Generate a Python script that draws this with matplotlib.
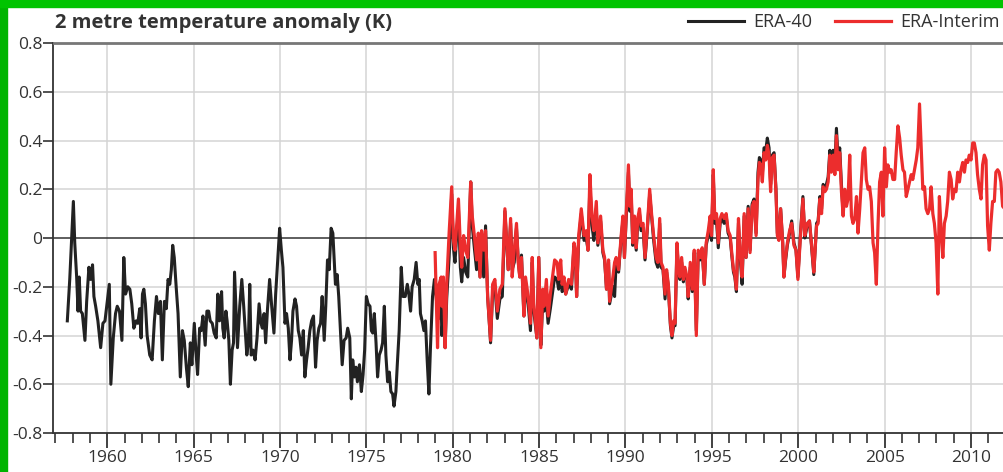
import numpy as np
import matplotlib
matplotlib.use("Agg")
import matplotlib.pyplot as plt
from matplotlib.patches import Rectangle

plt.rcParams['font.family'] = ['Open Sans', 'DejaVu Sans']

# ERA-40, 1957-1978 (year, anomaly K)
era40_years_early = [
    1957.69, 1957.83, 1958.04, 1958.12, 1958.23, 1958.31, 1958.38, 1958.46, 1958.56, 1958.71,
    1958.81, 1958.94, 1959.04, 1959.15, 1959.23, 1959.33, 1959.46, 1959.62, 1959.75, 1959.87,
    1960.00, 1960.12, 1960.21, 1960.35, 1960.48, 1960.58, 1960.71, 1960.85, 1960.96, 1961.06,
    1961.19, 1961.31, 1961.42, 1961.54, 1961.67, 1961.77, 1961.88, 1961.96, 1962.04, 1962.12,
    1962.21, 1962.31, 1962.46, 1962.60, 1962.73, 1962.85, 1962.96, 1963.08, 1963.19, 1963.31,
    1963.42, 1963.52, 1963.62, 1963.71, 1963.79, 1963.88, 1964.00, 1964.10, 1964.23, 1964.35,
    1964.46, 1964.58, 1964.69, 1964.81, 1964.90, 1965.04, 1965.13, 1965.23, 1965.35, 1965.44,
    1965.54, 1965.67, 1965.77, 1965.87, 1965.96, 1966.08, 1966.19, 1966.31, 1966.40, 1966.50,
    1966.62, 1966.69, 1966.77, 1966.87, 1966.94, 1967.04, 1967.13, 1967.23, 1967.31, 1967.37,
    1967.54, 1967.67, 1967.79, 1967.90, 1967.98, 1968.08, 1968.17, 1968.25, 1968.33, 1968.44,
    1968.56, 1968.67, 1968.79, 1968.90, 1968.98, 1969.08, 1969.17, 1969.27, 1969.40, 1969.52,
    1969.65, 1969.75, 1969.87, 1969.98, 1970.08, 1970.17, 1970.29, 1970.38, 1970.48, 1970.58,
    1970.67, 1970.75, 1970.87, 1970.96, 1971.06, 1971.15, 1971.25, 1971.35, 1971.44, 1971.54,
    1971.63, 1971.73, 1971.83, 1971.94, 1972.06, 1972.15, 1972.25, 1972.35, 1972.44, 1972.56,
    1972.65, 1972.75, 1972.85, 1972.96, 1973.06, 1973.13, 1973.21, 1973.31, 1973.40, 1973.50,
    1973.60, 1973.71, 1973.83, 1973.92, 1974.04, 1974.13, 1974.21, 1974.31, 1974.40, 1974.48,
    1974.60, 1974.71, 1974.81, 1974.90, 1975.00, 1975.10, 1975.21, 1975.29, 1975.37, 1975.46,
    1975.56, 1975.65, 1975.75, 1975.85, 1975.94, 1976.04, 1976.13, 1976.23, 1976.33, 1976.42,
    1976.52, 1976.60, 1976.71, 1976.79, 1976.90, 1977.02, 1977.12, 1977.25, 1977.37, 1977.46,
    1977.56, 1977.65, 1977.77, 1977.88, 1977.98, 1978.06, 1978.13, 1978.23, 1978.33, 1978.42,
    1978.52, 1978.62, 1978.71, 1978.83, 1978.94,
]
era40_vals_early = [
    -0.34, -0.17, 0.15, -0.02, -0.16, -0.30, -0.16, -0.30, -0.31, -0.42,
    -0.26, -0.12, -0.17, -0.11, -0.24, -0.28, -0.34, -0.45, -0.35, -0.34,
    -0.26, -0.19, -0.60, -0.41, -0.31, -0.28, -0.30, -0.42, -0.08, -0.23,
    -0.20, -0.21, -0.27, -0.37, -0.34, -0.35, -0.29, -0.41, -0.23, -0.21,
    -0.27, -0.40, -0.48, -0.50, -0.34, -0.24, -0.31, -0.26, -0.50, -0.26,
    -0.29, -0.17, -0.19, -0.13, -0.03, -0.08, -0.21, -0.31, -0.57, -0.38,
    -0.42, -0.53, -0.61, -0.43, -0.52, -0.35, -0.46, -0.56, -0.37, -0.38,
    -0.32, -0.44, -0.30, -0.30, -0.34, -0.35, -0.39, -0.41, -0.23, -0.34,
    -0.22, -0.37, -0.41, -0.30, -0.34, -0.42, -0.60, -0.46, -0.43, -0.14,
    -0.45, -0.28, -0.17, -0.28, -0.37, -0.48, -0.43, -0.19, -0.48, -0.46,
    -0.50, -0.41, -0.27, -0.35, -0.37, -0.31, -0.43, -0.30, -0.17, -0.28,
    -0.39, -0.23, -0.09, 0.04, -0.05, -0.12, -0.35, -0.31, -0.37, -0.50,
    -0.42, -0.30, -0.25, -0.28, -0.38, -0.41, -0.48, -0.38, -0.57, -0.50,
    -0.45, -0.38, -0.34, -0.32, -0.53, -0.42, -0.37, -0.35, -0.24, -0.42,
    -0.28, -0.09, -0.13, 0.04, 0.02, -0.08, -0.19, -0.15, -0.24, -0.38,
    -0.52, -0.42, -0.41, -0.37, -0.41, -0.66, -0.50, -0.57, -0.53, -0.59,
    -0.52, -0.63, -0.56, -0.46, -0.24, -0.27, -0.28, -0.38, -0.39, -0.31,
    -0.43, -0.57, -0.48, -0.46, -0.43, -0.28, -0.48, -0.59, -0.55, -0.63,
    -0.64, -0.69, -0.63, -0.52, -0.38, -0.12, -0.24, -0.24, -0.19, -0.23,
    -0.30, -0.20, -0.17, -0.10, -0.19, -0.17, -0.31, -0.34, -0.38, -0.34,
    -0.50, -0.64, -0.45, -0.24, -0.17,
]

# ERA-Interim, 1979-2011
interim_years = [
    1978.98, 1979.12, 1979.21, 1979.33, 1979.37, 1979.46, 1979.56, 1979.65, 1979.79, 1979.94,
    1980.04, 1980.13, 1980.33, 1980.44, 1980.52, 1980.63, 1980.75, 1980.87, 1981.04, 1981.13,
    1981.25, 1981.38, 1981.48, 1981.58, 1981.67, 1981.79, 1981.90, 1982.02, 1982.19, 1982.31,
    1982.44, 1982.58, 1982.73, 1982.87, 1983.02, 1983.13, 1983.21, 1983.35, 1983.44, 1983.56,
    1983.69, 1983.79, 1983.88, 1983.98, 1984.12, 1984.21, 1984.31, 1984.40, 1984.50, 1984.60,
    1984.69, 1984.87, 1984.98, 1985.10, 1985.21, 1985.29, 1985.42, 1985.52, 1985.65, 1985.90,
    1986.04, 1986.13, 1986.25, 1986.33, 1986.44, 1986.54, 1986.71, 1986.87, 1987.02, 1987.10,
    1987.17, 1987.29, 1987.44, 1987.60, 1987.73, 1987.83, 1987.94, 1988.06, 1988.17, 1988.31,
    1988.40, 1988.56, 1988.69, 1988.79, 1988.90, 1989.02, 1989.08, 1989.27, 1989.37, 1989.46,
    1989.60, 1989.75, 1989.85, 1989.94, 1990.04, 1990.17, 1990.25, 1990.33, 1990.42, 1990.52,
    1990.62, 1990.71, 1990.81, 1990.90, 1991.02, 1991.13, 1991.25, 1991.40, 1991.52, 1991.63,
    1991.77, 1991.87, 1991.98, 1992.06, 1992.17, 1992.29, 1992.38, 1992.48, 1992.60, 1992.69,
    1992.79, 1992.87, 1992.98, 1993.08, 1993.15, 1993.25, 1993.35, 1993.44, 1993.56, 1993.63,
    1993.75, 1993.87, 1993.98, 1994.10, 1994.21, 1994.33, 1994.44, 1994.56, 1994.67, 1994.79,
    1994.90, 1994.98, 1995.08, 1995.17, 1995.27, 1995.37, 1995.48, 1995.58, 1995.71, 1995.83,
    1995.94, 1996.06, 1996.15, 1996.25, 1996.33, 1996.42, 1996.54, 1996.63, 1996.75, 1996.87,
    1996.98, 1997.10, 1997.21, 1997.33, 1997.44, 1997.56, 1997.67, 1997.75, 1997.83, 1997.92,
    1998.02, 1998.12, 1998.21, 1998.31, 1998.40, 1998.50, 1998.60, 1998.71, 1998.79, 1998.88,
    1998.98, 1999.10, 1999.17, 1999.27, 1999.37, 1999.50, 1999.62, 1999.75, 1999.87, 1999.98,
    2000.13, 2000.27, 2000.38, 2000.52, 2000.65, 2000.81, 2000.90, 2001.06, 2001.15, 2001.25,
    2001.35, 2001.44, 2001.54, 2001.63, 2001.73, 2001.83, 2001.92, 2002.02, 2002.12, 2002.21,
    2002.31, 2002.40, 2002.50, 2002.60, 2002.69, 2002.79, 2002.88, 2002.98, 2003.08, 2003.17,
    2003.27, 2003.37, 2003.46, 2003.56, 2003.65, 2003.75, 2003.85, 2003.94, 2004.04, 2004.13,
    2004.23, 2004.33, 2004.42, 2004.52, 2004.62, 2004.71, 2004.81, 2004.90, 2005.00, 2005.10,
    2005.19, 2005.29, 2005.38, 2005.48, 2005.58, 2005.67, 2005.77, 2005.87, 2005.96, 2006.06,
    2006.15, 2006.25, 2006.35, 2006.44, 2006.54, 2006.63, 2006.73, 2006.83, 2006.92, 2007.02,
    2007.12, 2007.21, 2007.31, 2007.40, 2007.50, 2007.60, 2007.69, 2007.79, 2007.88, 2007.98,
    2008.08, 2008.17, 2008.27, 2008.37, 2008.46, 2008.56, 2008.65, 2008.75, 2008.85, 2008.94,
    2009.04, 2009.13, 2009.23, 2009.33, 2009.42, 2009.52, 2009.62, 2009.71, 2009.81, 2009.90,
    2010.00, 2010.10, 2010.19, 2010.29, 2010.38, 2010.48, 2010.58, 2010.67, 2010.77, 2010.87,
    2010.96, 2011.06, 2011.15, 2011.25, 2011.35, 2011.44, 2011.54, 2011.63, 2011.73, 2011.83,
    2011.95,
]
interim_vals = [
    -0.06, -0.45, -0.19, -0.16, -0.28, -0.16, -0.45, -0.19, 0.02, 0.21,
    -0.01, -0.05, 0.16, -0.03, -0.12, 0.01, -0.05, -0.08, 0.23, 0.09,
    0.01, -0.09, 0.02, -0.16, 0.03, -0.05, 0.03, -0.24, -0.42, -0.19,
    -0.17, -0.30, -0.21, -0.19, 0.12, -0.02, -0.13, 0.08, -0.16, -0.05,
    0.06, -0.10, -0.16, -0.08, -0.32, -0.16, -0.21, -0.27, -0.35, -0.08,
    -0.27, -0.41, -0.08, -0.45, -0.21, -0.28, -0.17, -0.32, -0.23, -0.09,
    -0.10, -0.17, -0.09, -0.19, -0.16, -0.23, -0.17, -0.19, -0.02, -0.05,
    -0.24, 0.01, 0.12, 0.01, 0.03, -0.05, 0.26, 0.09, 0.03, 0.15,
    -0.02, 0.09, -0.05, -0.08, -0.21, -0.09, -0.26, -0.16, -0.10, -0.08,
    -0.13, 0.01, 0.09, -0.08, 0.10, 0.30, 0.13, 0.20, -0.02, 0.09,
    -0.04, 0.08, 0.12, 0.05, 0.06, -0.08, 0.03, 0.20, 0.09, 0.01,
    -0.08, -0.10, 0.08, -0.10, -0.12, -0.23, -0.13, -0.19, -0.35, -0.40,
    -0.34, -0.35, -0.02, -0.13, -0.16, -0.08, -0.17, -0.12, -0.16, -0.24,
    -0.10, -0.21, -0.05, -0.40, -0.05, -0.08, -0.04, -0.19, -0.02, 0.03,
    0.09, 0.01, 0.28, 0.08, 0.10, -0.02, 0.08, 0.10, 0.08, 0.10,
    0.03, 0.01, -0.06, -0.13, -0.15, -0.21, 0.08, -0.06, -0.16, 0.10,
    -0.08, 0.12, -0.06, 0.13, 0.15, 0.01, 0.24, 0.31, 0.30, 0.23,
    0.35, 0.32, 0.38, 0.34, 0.19, 0.33, 0.34, 0.19, 0.01, -0.01,
    0.12, -0.02, -0.16, -0.08, -0.02, 0.03, 0.06, -0.03, -0.05, -0.17,
    0.01, 0.16, 0.01, 0.06, 0.07, -0.06, -0.14, 0.05, 0.06, 0.16,
    0.10, 0.21, 0.19, 0.20, 0.23, 0.34, 0.27, 0.34, 0.26, 0.42,
    0.28, 0.35, 0.19, 0.09, 0.20, 0.13, 0.16, 0.34, 0.09, 0.06,
    0.08, 0.17, 0.02, 0.12, 0.23, 0.35, 0.37, 0.24, 0.20, 0.21,
    0.15, -0.02, -0.06, -0.19, 0.06, 0.23, 0.27, 0.09, 0.37, 0.21,
    0.30, 0.27, 0.28, 0.24, 0.24, 0.35, 0.46, 0.41, 0.34, 0.28,
    0.27, 0.17, 0.20, 0.23, 0.26, 0.24, 0.28, 0.32, 0.37, 0.55,
    0.37, 0.20, 0.21, 0.12, 0.10, 0.12, 0.21, 0.10, 0.06, -0.02,
    -0.23, 0.17, 0.03, -0.08, 0.06, 0.09, 0.15, 0.27, 0.24, 0.16,
    0.20, 0.19, 0.27, 0.23, 0.28, 0.31, 0.27, 0.32, 0.31, 0.34,
    0.32, 0.39, 0.39, 0.35, 0.26, 0.20, 0.16, 0.30, 0.34, 0.32,
    0.05, -0.05, 0.06, 0.15, 0.15, 0.27, 0.28, 0.27, 0.23, 0.13,
    0.12,
]

# ERA-40 from 1979 to Aug 2002, on the same dates as ERA-Interim (from its 2nd point)
era40_vals_late = [
    -0.30, -0.33, -0.26, -0.40, -0.30, -0.45, -0.25, -0.08, 0.18,
    -0.04, -0.10, 0.12, -0.12, -0.18, -0.08, -0.14, -0.16, 0.23, 0.05,
    -0.04, -0.13, -0.04, -0.16, -0.02, -0.16, 0.05, -0.24, -0.43, -0.22,
    -0.20, -0.33, -0.25, -0.24, 0.11, -0.03, -0.13, 0.06, -0.13, -0.10,
    0.04, -0.09, -0.16, -0.07, -0.32, -0.19, -0.24, -0.30, -0.38, -0.10,
    -0.30, -0.41, -0.08, -0.44, -0.26, -0.30, -0.26, -0.35, -0.29, -0.16,
    -0.17, -0.21, -0.14, -0.22, -0.20, -0.23, -0.19, -0.21, -0.03, -0.07,
    -0.24, -0.01, 0.10, -0.01, 0.00, -0.05, 0.22, 0.05, -0.01, 0.12,
    -0.03, 0.07, -0.06, -0.09, -0.21, -0.10, -0.27, -0.20, -0.24, -0.10,
    -0.14, 0.00, 0.07, -0.08, 0.08, 0.27, 0.11, 0.18, -0.03, 0.07,
    -0.05, 0.06, 0.10, 0.03, 0.04, -0.09, 0.02, 0.18, 0.08, -0.01,
    -0.10, -0.12, 0.06, -0.12, -0.13, -0.25, -0.14, -0.20, -0.36, -0.41,
    -0.36, -0.36, -0.03, -0.15, -0.17, -0.10, -0.18, -0.14, -0.17, -0.25,
    -0.12, -0.22, -0.06, -0.38, -0.06, -0.09, -0.05, -0.19, -0.03, 0.01,
    0.05, -0.01, 0.26, 0.06, 0.07, -0.04, 0.06, 0.08, 0.06, 0.09,
    0.02, 0.00, -0.07, -0.14, -0.16, -0.22, 0.06, -0.07, -0.19, 0.09,
    -0.08, 0.13, -0.05, 0.14, 0.16, 0.02, 0.27, 0.33, 0.32, 0.26,
    0.37, 0.36, 0.41, 0.37, 0.22, 0.34, 0.35, 0.20, 0.02, 0.00,
    0.12, -0.02, -0.16, -0.09, -0.03, 0.02, 0.07, -0.02, -0.05, -0.16,
    0.02, 0.17, 0.00, 0.05, 0.07, -0.07, -0.15, 0.06, 0.07, 0.17,
    0.12, 0.22, 0.20, 0.22, 0.25, 0.36, 0.28, 0.36, 0.30, 0.45,
    0.32, 0.37, 0.22, 0.10,
]

era40_years = era40_years_early + interim_years[1:1 + len(era40_vals_late)]
era40_vals = era40_vals_early + era40_vals_late

fig = plt.figure(figsize=(10.04, 4.72), dpi=100)
ax = fig.add_axes([53.5 / 1004, 1 - 433 / 472, 1 - 53.5 / 1004, 390 / 472])

# gridlines
for yr in range(1960, 2015, 5):
    ax.axvline(yr, color='#d4d4d4', lw=1.1, zorder=0)
for v in [-0.6, -0.4, -0.2, 0.2, 0.4, 0.6]:
    ax.axhline(v, color='#d4d4d4', lw=1.1, zorder=0)
ax.axhline(0, color='#333333', lw=1.1, zorder=1)

ax.plot(era40_years, era40_vals, color='#222222', lw=2.2, label='ERA-40', zorder=2)
ax.plot(interim_years, interim_vals, color='#ec2d2d', lw=2.3, label='ERA-Interim', zorder=3)

ax.set_xlim(1956.89, 2011.91)
ax.set_ylim(-0.8, 0.8)
ax.set_yticks(np.arange(-0.8, 0.81, 0.2))
ax.set_yticklabels(['-0.8', '-0.6', '-0.4', '-0.2', '0', '0.2', '0.4', '0.6', '0.8'])
ax.set_xticks(range(1960, 2015, 5))
ax.set_xticks(range(1957, 2012), minor=True)

ax.spines['right'].set_visible(False)
ax.spines['top'].set_color('#777777')
ax.spines['top'].set_linewidth(2)
ax.spines['left'].set_color('#333333')
ax.spines['left'].set_linewidth(1.3)
ax.spines['bottom'].set_color('#333333')
ax.spines['bottom'].set_linewidth(1.3)

ax.tick_params(axis='y', direction='out', length=7, width=1.2, color='#333333',
               labelsize=12.5, labelcolor='#333333', pad=1)
ax.tick_params(axis='x', which='major', direction='out', length=10.5, width=1.3,
               color='#333333', labelsize=12.5, labelcolor='#333333', pad=2)
ax.tick_params(axis='x', which='minor', direction='out', length=7, width=1.2, color='#333333')

fig.text(55 / 1004, 1 - 28 / 472, '2 metre temperature anomaly (K)', fontsize=14.5,
         fontweight='bold', color='#333333', ha='left', va='baseline')

fig.legend(loc='center left', bbox_to_anchor=(688 / 1004, 1 - 22 / 472), ncol=2,
           frameon=False, fontsize=13, handlelength=3.1, handletextpad=0.5,
           columnspacing=1.3, borderpad=0, borderaxespad=0, labelcolor='#333333')

# green frame strips at left and top edge
fig.patches.append(Rectangle((0, 0), 7 / 1004, 1, transform=fig.transFigure,
                             color='#00b400', zorder=10))
fig.patches.append(Rectangle((0, 1 - 7 / 472), 1, 7 / 472, transform=fig.transFigure,
                             color='#00c400', zorder=10))

fig.savefig('out.png', dpi=100)
